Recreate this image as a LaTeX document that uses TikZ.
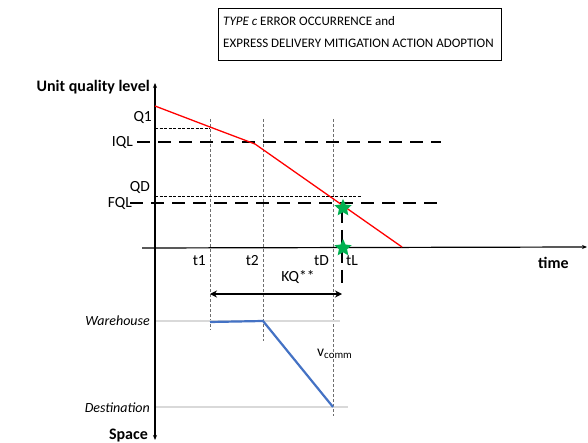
\documentclass[tikz,border=0pt]{standalone}
\usepackage{fontspec}
\setmainfont{Carlito}
\usetikzlibrary{arrows.meta,shapes.geometric}
\definecolor{qred}{RGB}{255,0,0}
\definecolor{qblue}{RGB}{68,114,196}
\definecolor{qgreen}{RGB}{0,176,80}
\definecolor{qgray}{RGB}{110,110,110}
\definecolor{qlight}{RGB}{217,217,217}
\tikzset{
  lab/.style={font=\fontsize{15.5}{17}\selectfont, inner sep=1pt},
  blab/.style={font=\fontsize{16}{18}\selectfont\bfseries, inner sep=1pt},
  ilab/.style={font=\fontsize{14}{17}\selectfont\itshape, inner sep=1pt},
  axis/.style={line width=1.2pt, -{Stealth[length=5pt,width=4pt]}},
  timeline/.style={draw=qgray, line width=0.8pt, dash pattern=on 3pt off 2pt},
  level/.style={line width=1.8pt, dash pattern=on 13pt off 8pt},
  short/.style={line width=0.9pt, dash pattern=on 3pt off 1.5pt},
  place/.style={draw=qlight, line width=1.2pt},
  gstar/.style={star, star points=5, star point ratio=2.1, fill=qgreen, inner sep=0pt, minimum size=18pt},
}
\begin{document}
\begin{tikzpicture}[x=1pt,y=-1pt]
\useasboundingbox (0,0) rectangle (588,443);
% title
\node[draw, line width=0.6pt, minimum width=283pt, minimum height=52pt, anchor=north west, inner sep=0pt] (title) at (218,8) {};
\node[anchor=west, align=left, inner sep=0pt, font=\fontsize{13}{22}\selectfont] (ttext) at (223,32) {\textit{TYPE c} ERROR OCCURRENCE and\\EXPRESS DELIVERY MITIGATION ACTION ADOPTION};
% coordinates
\coordinate (O) at (155,248);
\coordinate (ytop) at (155,83);
\coordinate (ybot) at (155,440);
\coordinate (xl) at (142,248);
\coordinate (xr) at (587,247);
% time lines
\coordinate (t1a) at (210,119); \coordinate (t1b) at (210,330);
\coordinate (t2a) at (263,119); \coordinate (t2b) at (263,341);
\coordinate (tDa) at (333,119); \coordinate (tDb) at (333,416);
\draw[timeline] (t1a) -- (t1b);
\draw[timeline] (t2a) -- (t2b);
\draw[timeline] (tDa) -- (tDb);
% place lines
\coordinate (wa) at (155,321); \coordinate (wb) at (340,321);
\coordinate (da) at (155,407); \coordinate (db) at (348,407);
\draw[place] (wa) -- (wb);
\draw[place] (da) -- (db);
% levels
\coordinate (iqla) at (137,142); \coordinate (iqlb) at (441,142);
\coordinate (fqla) at (130,203); \coordinate (fqlb) at (441,203);
\draw[level] (iqla) -- (iqlb);
\draw[level] (fqla) -- (fqlb);
\coordinate (q1a) at (155,128); \coordinate (q1b) at (210,128);
\coordinate (qda) at (155,196); \coordinate (qdb) at (361,196);
\draw[short] (q1a) -- (q1b);
\draw[short] (qda) -- (qdb);
% tL line
\coordinate (tLa) at (342,210); \coordinate (tLb) at (342,288);
\draw[line width=1.8pt, dash pattern=on 13pt off 7pt] (tLa) -- (tLb);
% axes
\draw[line width=1.2pt, {Stealth[length=5pt,width=4pt]}-{Stealth[length=5pt,width=4pt]}] (ybot) -- (ytop);
\draw[axis] (xl) -- (xr);
% quality line
\coordinate (r0) at (155,106);
\coordinate (r1) at (210,127);
\coordinate (r2) at (255,144);
\coordinate (r4) at (402,247);
\draw[qred, line width=1.3pt] (r0) -- (r1) -- (r2) -- (r4);
% space line
\coordinate (b0) at (210,322);
\coordinate (b1) at (263,321);
\coordinate (b2) at (333,407);
\draw[qblue, line width=2.2pt] (b0) -- (b1) -- (b2);
% KQ arrow
\coordinate (ka) at (210,294); \coordinate (kb) at (342,294);
\draw[line width=1.8pt, {Stealth[length=7pt,width=7pt]}-{Stealth[length=7pt,width=7pt]}] (ka) -- (kb);
% stars
\node[gstar] (s1) at (343,208) {};
\node[gstar] (s2) at (343,248) {};
% labels
\node[blab, anchor=east] (lq) at (151,87) {Unit quality level};
\node[lab, anchor=east] (lq1) at (153,117) {Q1};
\node[lab, anchor=east] (liql) at (134,142) {IQL};
\node[lab, anchor=east] (lqd) at (151,187) {QD};
\node[lab, anchor=east] (lfql) at (133,203) {FQL};
\node[lab, anchor=east] (lt1) at (207,261) {t1};
\node[lab, anchor=east] (lt2) at (260,261) {t2};
\node[lab, anchor=east] (ltD) at (330,261) {tD};
\node[lab, anchor=west] (ltL) at (345,261) {tL};
\node[blab, anchor=west] (ltime) at (537,263) {time};
\node[lab] (lkq) at (298,277) {KQ**};
\node[ilab, anchor=east] (lw) at (151,321) {Warehouse};
\node[ilab, anchor=east] (ld) at (151,408) {Destination};
\node[blab, anchor=east] (lsp) at (149,436) {Space};
\node[lab, anchor=west] (lv) at (316,354) {v$_{\mathrm{comm}}$};
\end{tikzpicture}
\end{document}
